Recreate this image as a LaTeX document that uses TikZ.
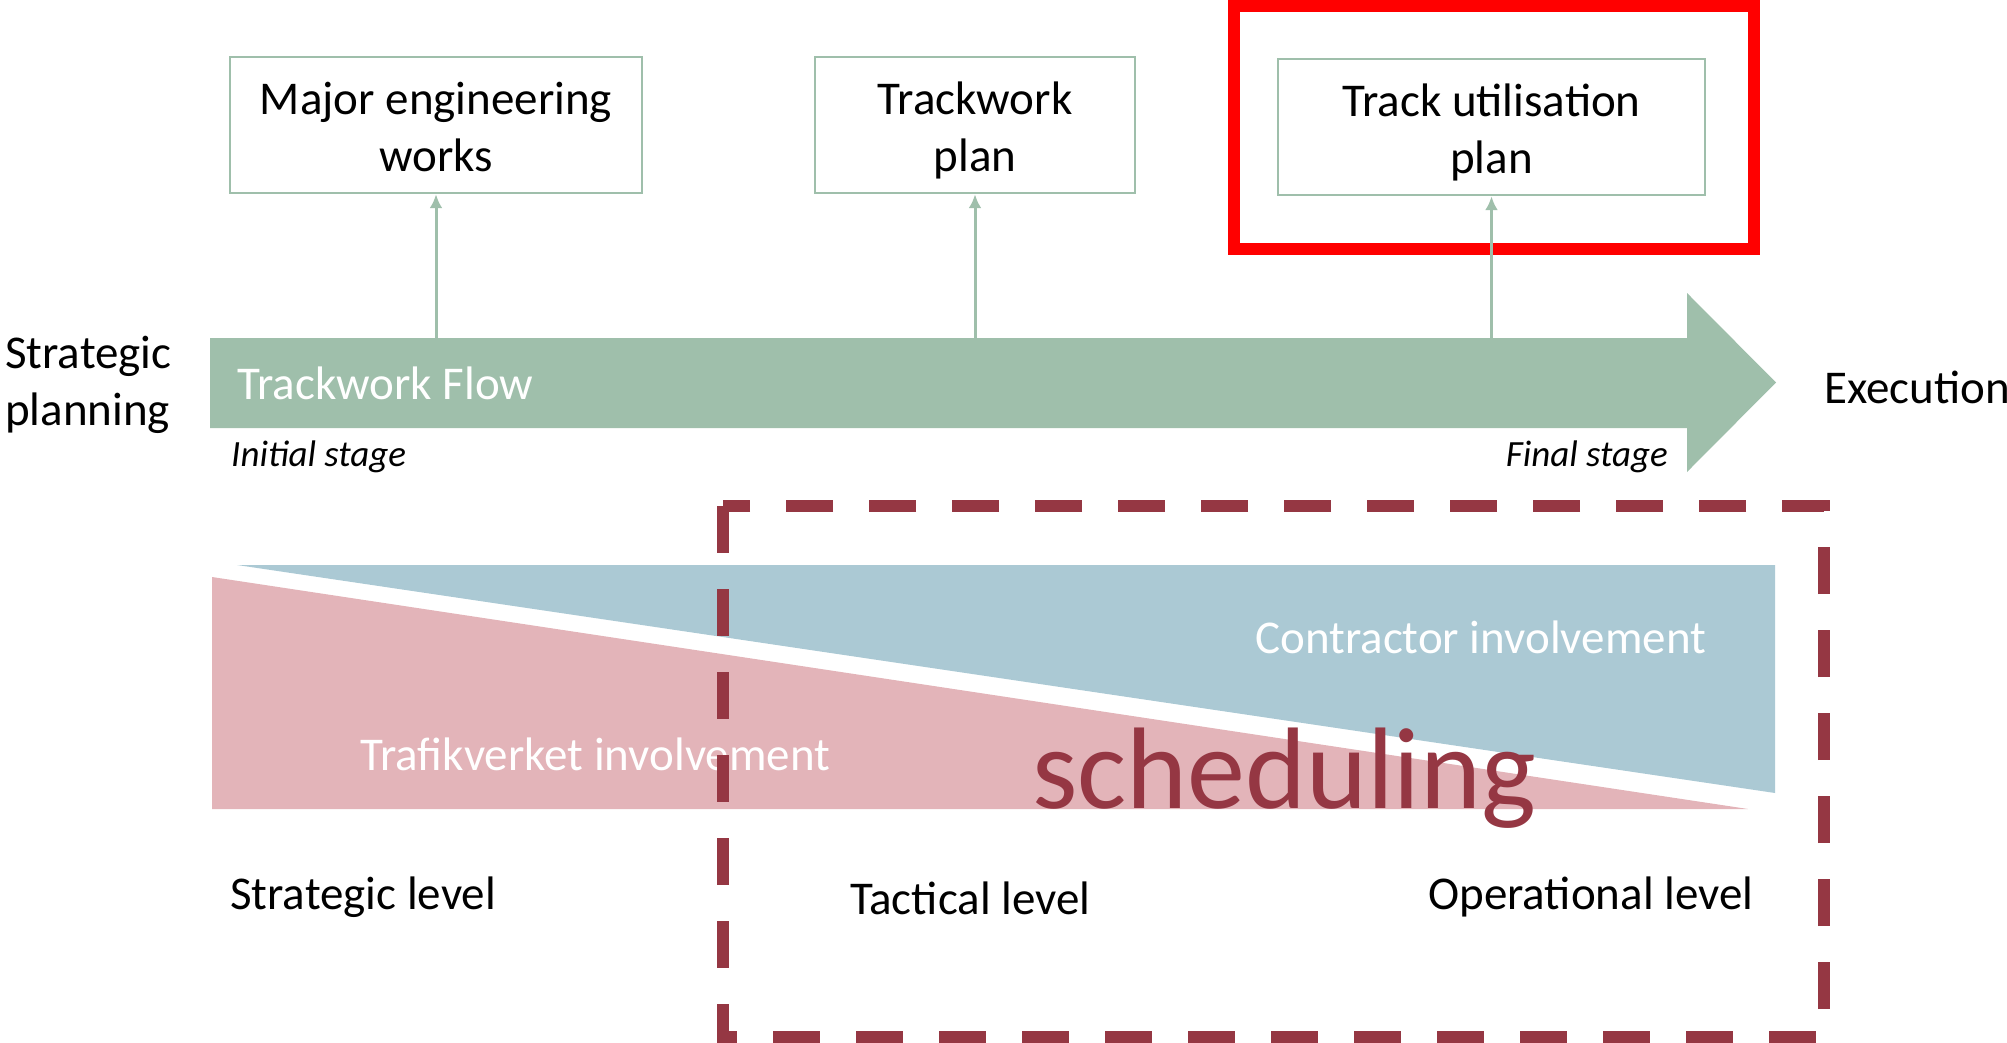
\documentclass[tikz,border=0pt]{standalone}
\usepackage{fontspec}
\setmainfont{Carlito}
\usetikzlibrary{arrows.meta}
\definecolor{flowgreen}{HTML}{9FBFAB}
\definecolor{pinkfill}{HTML}{E3B4B9}
\definecolor{bluefill}{HTML}{ABC9D4}
\definecolor{darkred}{HTML}{953743}
\newcommand\bxstrut{\rule[-10.5pt]{0pt}{57pt}}
\tikzset{
  planbox/.style={draw=flowgreen, line width=2.5pt, minimum height=136pt, align=center, inner sep=0pt, font=\fontsize{47}{57}\selectfont},
  uparrow/.style={draw=flowgreen, line width=3pt, -{Latex[length=14pt,width=13pt]}},
  bigtext/.style={inner sep=0pt, font=\fontsize{47}{57}\selectfont},
  stagetext/.style={inner sep=0pt, font=\fontsize{37}{44}\selectfont\itshape},
  whitetext/.style={inner sep=0pt, text=white, font=\fontsize{47}{57}\selectfont},
}
\begin{document}
\begin{tikzpicture}[x=1pt,y=-1pt]
\useasboundingbox (0,0) rectangle (2007,1043);
% top plan boxes
\node[planbox, minimum width=412pt] (mew) at (436,125) {\bxstrut Major engineering\\\bxstrut works};
\node[planbox, minimum width=320pt] (twp) at (975,125) {\bxstrut Trackwork\\\bxstrut plan};
\node[planbox, minimum width=427pt] (tup) at (1491.5,127) {\bxstrut Track utilisation\\\bxstrut plan};
% red highlight
\draw[red, line width=12pt] (1234,6) rectangle (1754,248.5);
% flow arrow
\fill[flowgreen] (210,338) -- (1687,338) -- (1687,293) -- (1776,382.5) -- (1687,472) -- (1687,428) -- (210,428) -- cycle;
\coordinate (f1) at (436,338);
\coordinate (f2) at (975,338);
\coordinate (f3) at (1491.5,338);
\draw[uparrow] (f1) -- (mew.south);
\draw[uparrow] (f2) -- (twp.south);
\draw[uparrow] (f3) -- (tup.south);
\node[whitetext, anchor=west] (flow) at (237,383) {Trackwork Flow};
\node[bigtext, anchor=west, align=left, font=\fontsize{47}{57}\selectfont] (sp) at (5,386) {\strut Strategic\\\strut planning};
\node[bigtext, anchor=west] (exe) at (1824,387) {Execution};
\node[stagetext, anchor=west] (ini) at (231,457) {Initial stage};
\node[stagetext, anchor=east] (fin) at (1668,457) {Final stage};
% involvement wedges
\fill[pinkfill] (212,577) -- (1748,809) -- (212,809) -- cycle;
\fill[bluefill] (237,565) -- (1775,565) -- (1775,793) -- cycle;
\node[whitetext, anchor=west] (tv) at (360,754) {Trafikverket involvement};
\node[whitetext, anchor=west] (ci) at (1255,637) {Contractor involvement};
% scheduling frame
\draw[darkred, line width=12pt, dash pattern=on 47pt off 36pt] (723,506) rectangle (1824,1037);
\node[inner sep=0pt, anchor=base west, text=darkred, font=\fontsize{116}{130}\selectfont] (sch) at (1032,808) {scheduling};
% levels
\node[bigtext, anchor=west] (sl) at (230,897) {Strategic level};
\node[bigtext, anchor=west] (tl) at (850,898) {Tactical level};
\node[bigtext, anchor=west] (ol) at (1428,897) {Operational level};
\end{tikzpicture}
\end{document}
